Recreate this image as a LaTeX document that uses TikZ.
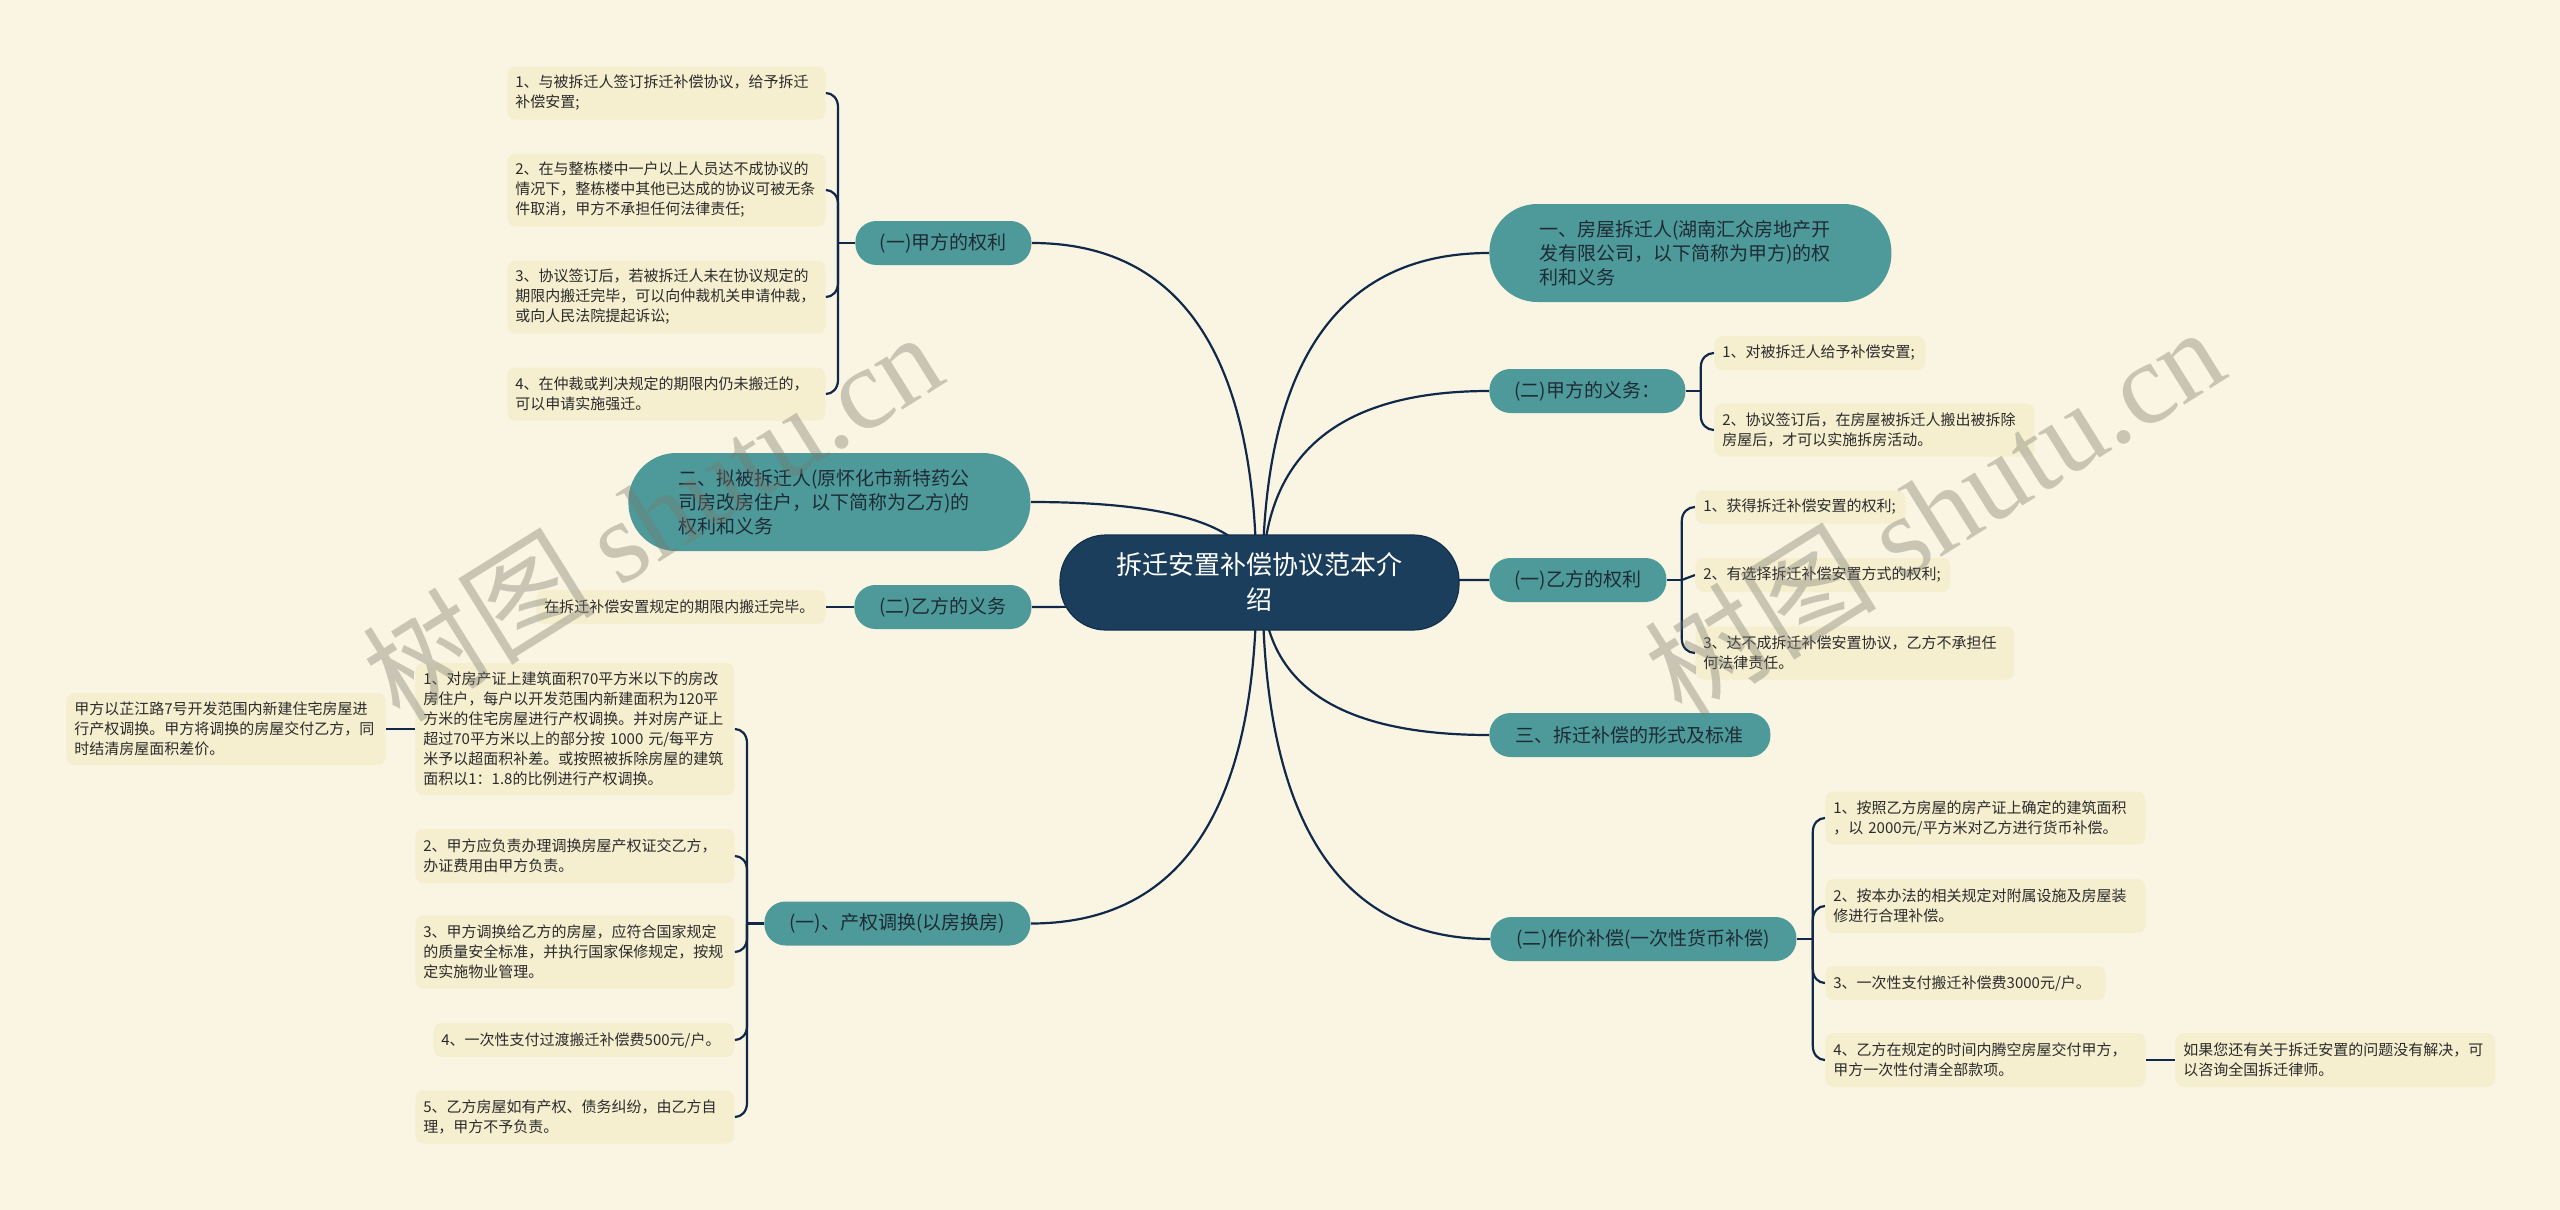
\documentclass[tikz,border=0pt]{standalone}
\usepackage{fontspec}
\setmainfont{Noto Sans CJK SC}
\newfontfamily\wmserif{Liberation Serif}
\usetikzlibrary{calc}
\definecolor{bg}{HTML}{FAF5E2}
\definecolor{leaffill}{HTML}{F5EECF}
\definecolor{leaftext}{HTML}{2B2B2B}
\definecolor{tealfill}{HTML}{4E9A9A}
\definecolor{tealtext}{HTML}{1E2B36}
\definecolor{rootfill}{HTML}{1B3E5D}
\definecolor{rootborder}{HTML}{12304B}
\definecolor{linec}{HTML}{10294A}
\definecolor{wmcol}{RGB}{120,120,110}
\pgfdeclarelayer{background}
\pgfdeclarelayer{lines}
\pgfdeclarelayer{front}
\pgfsetlayers{background,lines,main,front}
\newcommand\rlink[2]{%
  \draw[link] (#1) .. controls ($(#1)!0.6667!(#1 |- #2)$) and ($(#2)!0.6667!(#1 |- #2)$) .. (#2);}
\newcommand\blink[3]{%
  \draw[link] let \p1=(#1), \p2=(#2) in (\p1) -- ($(\x1,\y2)+(0,#3)$) .. controls ($(\x1,\y2)+(0,#3*0.4)$) and ($(\x1,\y2)!0.45!(\p2)$) .. (\p2);}
\begin{document}
\begin{tikzpicture}[x=0.5pt,y=-0.5pt,
  leaf/.style={fill=leaffill, rounded corners=4pt, inner xsep=4pt, inner ysep=0pt, align=left, anchor=west, text=leaftext, font=\fontsize{7.5pt}{10pt}\selectfont},
  topic/.style={fill=tealfill, rounded corners=10.5pt, inner sep=0pt, anchor=west, minimum height=22pt, text=tealtext, align=center, font=\fontsize{9.5pt}{12pt}\selectfont},
  bigtopic/.style={fill=tealfill, rounded corners=24pt, inner xsep=25pt, inner ysep=0pt, anchor=west, minimum height=49pt, text width=151pt, align=left, text=tealtext, font=\fontsize{9.5pt}{12pt}\selectfont},
  rootnode/.style={fill=rootfill, draw=rootborder, line width=0.6pt, rounded corners=23pt, minimum width=199.5pt, minimum height=47.5pt, inner sep=0pt, align=center, text=white, font=\fontsize{13pt}{17.5pt}\selectfont},
  link/.style={draw=linec, line width=1.1pt},
  wmark/.style={text=wmcol, opacity=0.38, rotate=32, inner sep=0pt, font=\fontsize{58pt}{60pt}\selectfont}
]
\begin{pgfonlayer}{background}
\fill[bg] (0,0) rectangle (2560,1210);
\end{pgfonlayer}
\useasboundingbox (0,0) rectangle (2560,1210);

% root
\node[rootnode] (root) at (1259.5,582.5) {拆迁安置补偿协议范本介\\绍};

% left topics
\node[topic, minimum width=88pt] (A) at (855,243) {(一)甲方的权利};
\node[bigtopic] (B2) at (628,502) {二、拟被拆迁人(原怀化市新特药公\\司房改房住户，以下简称为乙方)的\\权利和义务};
\node[topic, minimum width=88.5pt] (C2) at (854,607) {(二)乙方的义务};
\node[topic, minimum width=133pt] (B) at (764,923.5) {(一)、产权调换(以房换房)};

% right topics
\node[bigtopic] (R1) at (1489,253) {一、房屋拆迁人(湖南汇众房地产开\\发有限公司，以下简称为甲方)的权\\利和义务};
\node[topic, minimum width=98pt] (R2) at (1489,391) {(二)甲方的义务：};
\node[topic, minimum width=88.5pt] (R3) at (1489,580) {(一)乙方的权利};
\node[topic, minimum width=140.5pt] (R4) at (1489,735) {三、拆迁补偿的形式及标准};
\node[topic, minimum width=153pt] (R5) at (1490,939) {(二)作价补偿(一次性货币补偿)};

% leaves of A
\node[leaf, text width=151pt, minimum height=26.5pt] (L1a) at (507,93) {1、与被拆迁人签订拆迁补偿协议，给予拆迁\\补偿安置;};
\node[leaf, text width=151pt, minimum height=36.5pt] (L1b) at (507,190) {2、在与整栋楼中一户以上人员达不成协议的\\情况下，整栋楼中其他已达成的协议可被无条\\件取消，甲方不承担任何法律责任;};
\node[leaf, text width=151pt, minimum height=36.5pt] (L1c) at (507,297) {3、协议签订后，若被拆迁人未在协议规定的\\期限内搬迁完毕，可以向仲裁机关申请仲裁，\\或向人民法院提起诉讼;};
\node[leaf, text width=151pt, minimum height=26.5pt] (L1d) at (507,394) {4、在仲裁或判决规定的期限内仍未搬迁的，\\可以申请实施强迁。};

% leaf of C2
\node[leaf, text width=136.5pt, minimum height=17pt] (C2a) at (536,607) {在拆迁补偿安置规定的期限内搬迁完毕。};

% leaves of B
\node[leaf, text width=151.5pt, minimum height=66pt] (P1) at (415,729) {1、对房产证上建筑面积70平方米以下的房改\\房住户，每户以开发范围内新建面积为120平\\方米的住宅房屋进行产权调换。并对房产证上\\超过70平方米以上的部分按 1000 元/每平方\\米予以超面积补差。或按照被拆除房屋的建筑\\面积以1：1.8的比例进行产权调换。};
\node[leaf, text width=151.5pt, minimum height=36pt] (PX) at (66,729) {甲方以芷江路7号开发范围内新建住宅房屋进\\行产权调换。甲方将调换的房屋交付乙方，同\\时结清房屋面积差价。};
\node[leaf, text width=151.5pt, minimum height=27pt] (P2) at (415,856) {2、甲方应负责办理调换房屋产权证交乙方，\\办证费用由甲方负责。};
\node[leaf, text width=151.5pt, minimum height=36.5pt] (P3) at (415,952) {3、甲方调换给乙方的房屋，应符合国家规定\\的质量安全标准，并执行国家保修规定，按规\\定实施物业管理。};
\node[leaf, text width=142.5pt, minimum height=17pt] (P4) at (433,1040) {4、一次性支付过渡搬迁补偿费500元/户。};
\node[leaf, text width=151.5pt, minimum height=26.5pt] (P5) at (415,1117) {5、乙方房屋如有产权、债务纠纷，由乙方自\\理，甲方不予负责。};

% leaves of R2
\node[leaf, text width=97.5pt, minimum height=17pt] (R2a) at (1714,353) {1、对被拆迁人给予补偿安置;};
\node[leaf, text width=152pt, minimum height=26.5pt] (R2b) at (1714,430) {2、协议签订后，在房屋被拆迁人搬出被拆除\\房屋后，才可以实施拆房活动。};

% leaves of R3
\node[leaf, text width=97pt, minimum height=16.5pt] (R3a) at (1695,507) {1、获得拆迁补偿安置的权利;};
\node[leaf, text width=119.5pt, minimum height=17pt] (R3b) at (1695,575) {2、有选择拆迁补偿安置方式的权利;};
\node[leaf, text width=151.5pt, minimum height=26.5pt] (R3c) at (1695,653) {3、达不成拆迁补偿安置协议，乙方不承担任\\何法律责任。};

% leaves of R5
\node[leaf, text width=152pt, minimum height=26.5pt] (R5a) at (1825,818) {1、按照乙方房屋的房产证上确定的建筑面积\\，以 2000元/平方米对乙方进行货币补偿。};
\node[leaf, text width=152pt, minimum height=27pt] (R5b) at (1825,906) {2、按本办法的相关规定对附属设施及房屋装\\修进行合理补偿。};
\node[leaf, text width=132pt, minimum height=17pt] (R5c) at (1825,983) {3、一次性支付搬迁补偿费3000元/户。};
\node[leaf, text width=152pt, minimum height=27pt] (R5d) at (1825,1060) {4、乙方在规定的时间内腾空房屋交付甲方，\\甲方一次性付清全部款项。};
\node[leaf, text width=152pt, minimum height=27pt] (R5e) at (2175,1060) {如果您还有关于拆迁安置的问题没有解决，可\\以咨询全国拆迁律师。};

\begin{pgfonlayer}{lines}
\coordinate (SL) at ($(root.center)+(-3,0)$);
\coordinate (SR) at ($(root.center)+(3,0)$);
\rlink{SL}{A.east}
\rlink{SL}{B2.east}
\rlink{SL}{C2.east}
\rlink{SL}{B.east}
\rlink{SR}{R1.west}
\rlink{SR}{R2.west}
\rlink{SR}{R3.west}
\rlink{SR}{R4.west}
\rlink{SR}{R5.west}
% bracket A
\coordinate (bA) at ($(A.west)+(-17,0)$);
\draw[link] (A.west) -- (bA);
\blink{bA}{L1a.east}{14}
\blink{bA}{L1b.east}{14}
\blink{bA}{L1c.east}{-14}
\blink{bA}{L1d.east}{-14}
% C2
\draw[link] (C2.west) -- (C2a.east);
% bracket B
\coordinate (bB) at ($(B.west)+(-17,0)$);
\draw[link] (B.west) -- (bB);
\blink{bB}{P1.east}{14}
\blink{bB}{P2.east}{14}
\blink{bB}{P3.east}{-14}
\blink{bB}{P4.east}{-14}
\blink{bB}{P5.east}{-14}
\draw[link] (P1.west) -- (PX.east);
% bracket R2
\coordinate (bC) at ($(R2.east)+(15,0)$);
\draw[link] (R2.east) -- (bC);
\blink{bC}{R2a.west}{14}
\blink{bC}{R2b.west}{-14}
% bracket R3
\coordinate (bD) at ($(R3.east)+(15,0)$);
\draw[link] (R3.east) -- (bD);
\blink{bD}{R3a.west}{14}
\draw[link] (bD) -- (R3b.west);
\blink{bD}{R3c.west}{-14}
% bracket R5
\coordinate (bE) at ($(R5.east)+(16,0)$);
\draw[link] (R5.east) -- (bE);
\blink{bE}{R5a.west}{14}
\blink{bE}{R5b.west}{14}
\blink{bE}{R5c.west}{-14}
\blink{bE}{R5d.west}{-14}
\draw[link] (R5d.east) -- (R5e.west);
\end{pgfonlayer}

\begin{pgfonlayer}{front}
\node[wmark] (wm1) at (652,515) {树图 {\wmserif shutu.cn}};
\node[wmark] (wm2) at (1934,510) {树图 {\wmserif shutu.cn}};
\end{pgfonlayer}
\end{tikzpicture}
\end{document}
